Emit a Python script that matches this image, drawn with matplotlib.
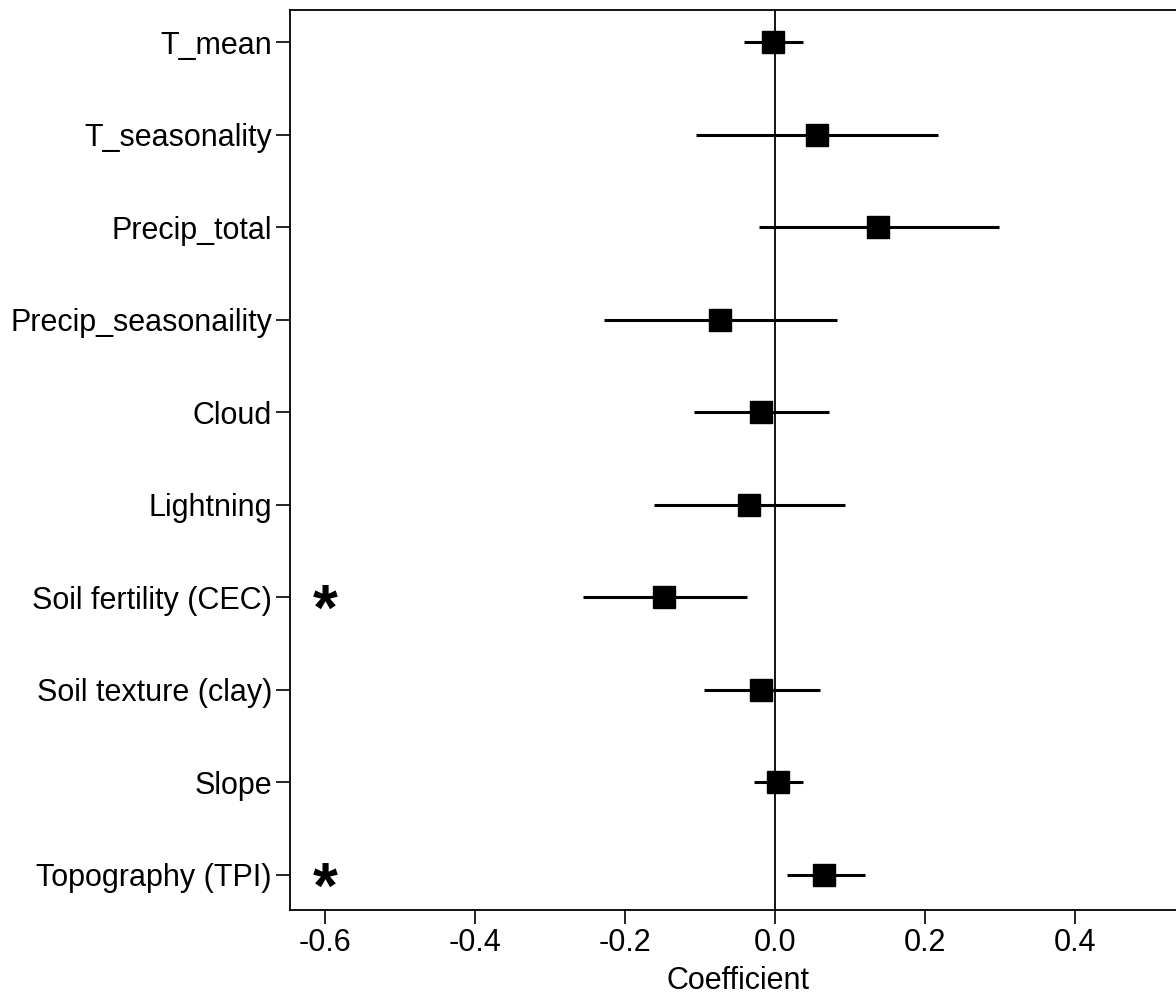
import matplotlib
matplotlib.use("Agg")
from matplotlib import pyplot as plt

# coefficient estimates with lower / upper interval ends
variables = ["T_mean", "T_seasonality", "Precip_total", "Precip_seasonaility",
             "Cloud", "Lightning", "Soil fertility (CEC)", "Soil texture (clay)",
             "Slope", "Topography (TPI)"]
coef = [-0.003, 0.056, 0.138, -0.074, -0.018, -0.035, -0.148, -0.019, 0.004, 0.066]
lower = [-0.041, -0.105, -0.021, -0.228, -0.108, -0.161, -0.256, -0.095, -0.028, 0.016]
upper = [0.038, 0.217, 0.299, 0.083, 0.072, 0.094, -0.037, 0.060, 0.038, 0.120]
significant = ["Soil fertility (CEC)", "Topography (TPI)"]
xticks = [-0.6, -0.4, -0.2, 0.0, 0.2, 0.4]

plt.rcParams['font.family'] = ['Liberation Sans', 'DejaVu Sans']

fig = plt.figure(figsize=(11.76, 10.01), dpi=100)
ax = fig.add_axes([290 / 1176, 91 / 1001, 895 / 1176, 900 / 1001])

ypos = list(range(1, len(variables) + 1))
ax.axvline(0, color='black', lw=1.3, zorder=1)
ax.hlines(ypos, lower, upper, color='black', lw=2.2, zorder=2)
ax.plot(coef, ypos, 's', color='black', markersize=16, zorder=3)

for name in significant:
    y = variables.index(name) + 1
    ax.text(-0.6, y + 0.17, '*', fontsize=46, fontweight='bold',
            ha='center', va='center')

ax.set_xlim(-0.647, 0.547)
ax.set_ylim(len(variables) + 0.38, 0.65)
ax.set_yticks(ypos)
ax.set_yticklabels(variables)
ax.set_xticks(xticks)
ax.set_xticklabels([f"{t:.1f}" for t in xticks])
ax.tick_params(axis='both', direction='out', length=10, width=1.2,
               labelsize=22, pad=3)
ax.set_xlabel('Coefficient', fontsize=22, labelpad=6)
for sp in ax.spines.values():
    sp.set_linewidth(1.3)

fig.savefig('out.png', dpi=100)
